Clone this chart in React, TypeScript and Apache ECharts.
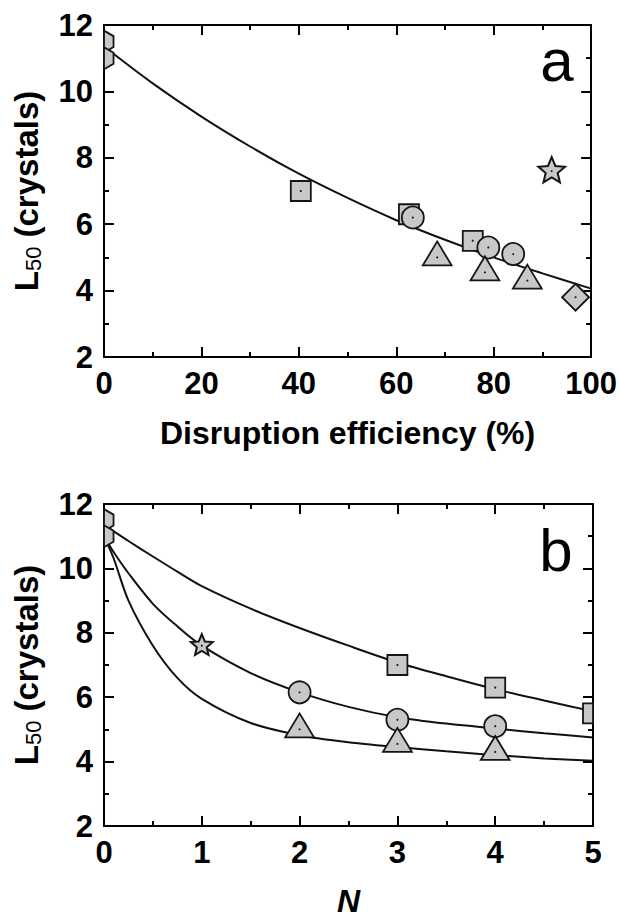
import React, { useEffect, useRef } from "react";
import * as echarts from "echarts";

const FONT = "'Liberation Sans', Arial, Helvetica, sans-serif";
const FILL = "#c8c8c8";
const STROKE = "#151515";

// ---------- Panel a : L50 vs disruption efficiency ----------
const effTicks = [0, 20, 40, 60, 80, 100];
const effHexagons = [[0, 11.5], [0, 11.0]];
const effSquares = [[40.4, 7.0], [62.6, 6.3], [75.7, 5.5]];
const effCircles = [[63.4, 6.2], [78.9, 5.3], [84.0, 5.1]];
const effTriangles = [[68.4, 5.0], [78.2, 4.55], [86.9, 4.3]];
const effStar = [[91.9, 7.6]];
const effDiamond = [[96.8, 3.8]];
const effFitX = [0, 10, 20, 30, 40, 50, 60, 70, 80, 90, 100];
const effFitY = [11.35, 10.24, 9.24, 8.34, 7.52, 6.79, 6.12, 5.53, 5.0, 4.52, 4.06];

// ---------- Panel b : L50 vs N ----------
const nTicks = [0, 1, 2, 3, 4, 5];
const nHexagons = [[0, 11.5], [0, 11.0]];
const nSquares = [[3, 7.0], [4, 6.3], [5, 5.5]];
const nCircles = [[2, 6.15], [3, 5.3], [4, 5.1]];
const nTriangles = [[2, 5.0], [3, 4.55], [4, 4.3]];
const nStar = [[1, 7.6]];
const nFitX = [0, 0.1, 0.25, 0.5, 0.75, 1, 1.5, 2, 2.5, 3, 3.5, 4, 4.5, 5];
const nFitUpper = [11.35, 11.15, 10.85, 10.37, 9.9, 9.45, 8.75, 8.15, 7.6, 7.08, 6.65, 6.25, 5.9, 5.56];
const nFitMiddle = [11.0, 10.5, 9.85, 8.9, 8.2, 7.6, 6.75, 6.15, 5.7, 5.38, 5.18, 5.03, 4.88, 4.75];
const nFitLower = [11.0, 10.3, 9.0, 7.6, 6.6, 5.95, 5.2, 4.82, 4.6, 4.45, 4.32, 4.2, 4.1, 4.03];

const yTicks = [2, 4, 6, 8, 10, 12];

function zip(xs: number[], ys: number[]) {
  return xs.map((x, i) => [x, ys[i]]);
}

type Rect = { x: number; y: number; width: number; height: number };

// Sutherland–Hodgman clipping of a polygon to the plot rectangle
function clipToRect(pts: number[][], r: Rect): number[][] {
  const edges = [
    (p: number[]) => p[0] >= r.x,
    (p: number[]) => p[0] <= r.x + r.width,
    (p: number[]) => p[1] >= r.y,
    (p: number[]) => p[1] <= r.y + r.height,
  ];
  const inter = (a: number[], b: number[], k: number) => {
    if (k < 2) {
      const xe = k === 0 ? r.x : r.x + r.width;
      const t = (xe - a[0]) / (b[0] - a[0]);
      return [xe, a[1] + t * (b[1] - a[1])];
    }
    const ye = k === 2 ? r.y : r.y + r.height;
    const t = (ye - a[1]) / (b[1] - a[1]);
    return [a[0] + t * (b[0] - a[0]), ye];
  };
  let out = pts;
  for (let k = 0; k < 4; k++) {
    const inside = edges[k];
    const input = out;
    out = [];
    for (let i = 0; i < input.length; i++) {
      const cur = input[i];
      const prev = input[(i + input.length - 1) % input.length];
      const cIn = inside(cur);
      const pIn = inside(prev);
      if (cIn) {
        if (!pIn) out.push(inter(prev, cur, k));
        out.push(cur);
      } else if (pIn) {
        out.push(inter(prev, cur, k));
      }
    }
    if (!out.length) break;
  }
  return out;
}

function shapePoints(shape: string, cx: number, cy: number, s: number): number[][] {
  if (shape === "square") {
    const h = s / 2;
    return [[cx - h, cy - h], [cx + h, cy - h], [cx + h, cy + h], [cx - h, cy + h]];
  }
  if (shape === "triangle") {
    const w = s * 1.2;
    const h = s;
    return [[cx, cy - (h * 2) / 3], [cx + w / 2, cy + h / 3], [cx - w / 2, cy + h / 3]];
  }
  if (shape === "diamond") {
    const r = s / 2;
    return [[cx, cy - r], [cx + r, cy], [cx, cy + r], [cx - r, cy]];
  }
  if (shape === "hexagon") {
    const R = s / 2;
    const pts: number[][] = [];
    for (let k = 0; k < 6; k++) {
      const a = -Math.PI / 2 + (k * Math.PI) / 3;
      pts.push([cx + R * Math.cos(a), cy + R * Math.sin(a)]);
    }
    return pts;
  }
  // star
  const R = s / 2;
  const r = R * 0.45;
  const pts: number[][] = [];
  for (let k = 0; k < 10; k++) {
    const a = -Math.PI / 2 + (k * Math.PI) / 5;
    const rr = k % 2 === 0 ? R : r;
    pts.push([cx + rr * Math.cos(a), cy + rr * Math.sin(a)]);
  }
  return pts;
}

function markerSeries(name: string, data: number[][], shape: string, size: number, idx: number) {
  return {
    type: "custom",
    name,
    data,
    xAxisIndex: idx * 2,
    yAxisIndex: idx * 2,
    z: 5,
    encode: { x: 0, y: 1 },
    renderItem: (params: any, api: any) => {
      const p = api.coord([api.value(0), api.value(1)]);
      const cx = p[0];
      const cy = p[1];
      const cs = params.coordSys as Rect;
      const style = { fill: FILL, stroke: STROKE, lineWidth: shape === "star" ? 2 : 1.8 };
      let main: any;
      if (shape === "circle") {
        main = { type: "circle", shape: { cx, cy, r: size / 2 }, style };
      } else {
        const pts = clipToRect(shapePoints(shape, cx, cy, size), cs);
        main = { type: "polygon", shape: { points: pts }, style };
      }
      return {
        type: "group",
        children: [main, { type: "circle", shape: { cx, cy, r: 1.1 }, style: { fill: "#222" } }],
      };
    },
  };
}

function fitSeries(name: string, data: number[][], idx: number) {
  return {
    type: "line",
    name,
    data,
    xAxisIndex: idx * 2,
    yAxisIndex: idx * 2,
    smooth: 0.3,
    showSymbol: false,
    symbol: "none",
    clip: true,
    z: 3,
    lineStyle: { color: "#111", width: 2 },
  };
}

const tickStyle = { color: "#000", width: 2 };
const labelFont = { color: "#000", fontSize: 31, fontWeight: "bold", fontFamily: FONT };

function xAxes(gridIndex: number, max: number, interval: number, name: string, nameGap: number, italic: boolean) {
  const common = {
    gridIndex,
    type: "value",
    min: 0,
    max,
    interval,
    splitLine: { show: false },
    axisLine: { show: true, onZero: false, lineStyle: tickStyle },
    axisTick: { show: true, inside: true, length: 10, lineStyle: tickStyle },
    minorTick: { show: true, splitNumber: 2, length: 5, lineStyle: tickStyle },
  };
  return [
    {
      ...common,
      position: "bottom",
      axisLabel: { show: true, margin: 11, ...labelFont, showMinLabel: true, showMaxLabel: true },
      name,
      nameLocation: "middle",
      nameGap,
      nameTextStyle: {
        color: "#000",
        fontSize: 32,
        fontWeight: "bold",
        fontStyle: italic ? "italic" : "normal",
        fontFamily: FONT,
      },
    },
    { ...common, position: "top", axisLabel: { show: false } },
  ];
}

function yAxes(gridIndex: number) {
  const common = {
    gridIndex,
    type: "value",
    min: 2,
    max: 12,
    interval: 2,
    splitLine: { show: false },
    axisLine: { show: true, onZero: false, lineStyle: tickStyle },
    axisTick: { show: true, inside: true, length: 10, lineStyle: tickStyle },
    minorTick: { show: true, splitNumber: 2, length: 5, lineStyle: tickStyle },
  };
  return [
    {
      ...common,
      position: "left",
      axisLabel: { show: true, margin: 11, ...labelFont, showMinLabel: true, showMaxLabel: true },
      name: "{b|L}{s|50}{b| (crystals)}",
      nameLocation: "middle",
      nameRotate: 90,
      nameGap: 60,
      nameTextStyle: {
        rich: {
          b: { fontSize: 33, fontWeight: "bold", fontFamily: FONT, color: "#000", lineHeight: 35 },
          s: { fontSize: 22, fontWeight: "normal", fontFamily: FONT, color: "#000", lineHeight: 22, verticalAlign: "bottom" },
        },
      },
    },
    { ...common, position: "right", axisLabel: { show: false } },
  ];
}

export default function App() {
  const ref = useRef<HTMLDivElement>(null);

  useEffect(() => {
    document.body.style.margin = "0";
    if (!ref.current) return;
    const chart = echarts.init(ref.current, undefined, { renderer: "svg" });
    const option: any = {
      animation: false,
      backgroundColor: "#ffffff",
      grid: [
        { left: 104, top: 25, width: 490, height: 332 },
        { left: 104, top: 504, width: 489, height: 329 },
      ],
      xAxis: [
        ...xAxes(0, 100, 20, "Disruption efficiency (%)", 60, false),
        ...xAxes(1, 5, 1, "N", 59, true),
      ],
      yAxis: [...yAxes(0), ...yAxes(1)],
      graphic: [
        {
          type: "text",
          x: 557,
          y: 60,
          style: { text: "a", fontSize: 60, fontFamily: FONT, fill: "#000", align: "center", verticalAlign: "middle" },
        },
        {
          type: "text",
          x: 556,
          y: 550,
          style: { text: "b", fontSize: 60, fontFamily: FONT, fill: "#000", align: "center", verticalAlign: "middle" },
        },
      ],
      series: [
        fitSeries("fit a", zip(effFitX, effFitY), 0),
        markerSeries("hexagon a", effHexagons, "hexagon", 22, 0),
        markerSeries("square a", effSquares, "square", 20, 0),
        markerSeries("circle a", effCircles, "circle", 22, 0),
        markerSeries("triangle a", effTriangles, "triangle", 24, 0),
        markerSeries("star a", effStar, "star", 28, 0),
        markerSeries("diamond a", effDiamond, "diamond", 27, 0),

        fitSeries("fit upper", zip(nFitX, nFitUpper), 1),
        fitSeries("fit middle", zip(nFitX, nFitMiddle), 1),
        fitSeries("fit lower", zip(nFitX, nFitLower), 1),
        markerSeries("hexagon b", nHexagons, "hexagon", 22, 1),
        markerSeries("square b", nSquares, "square", 20, 1),
        markerSeries("circle b", nCircles, "circle", 22, 1),
        markerSeries("triangle b", nTriangles, "triangle", 24, 1),
        markerSeries("star b", nStar, "star", 23, 1),
      ],
    };
    chart.setOption(option);
    return () => chart.dispose();
  }, []);

  return (
    <div
      ref={ref}
      style={{ position: "fixed", left: 0, top: 0, width: 620, height: 918, background: "#fff" }}
    />
  );
}

// tick label values used by the axes (min/max/interval above)
export const tickLabels = { effTicks, nTicks, yTicks };
